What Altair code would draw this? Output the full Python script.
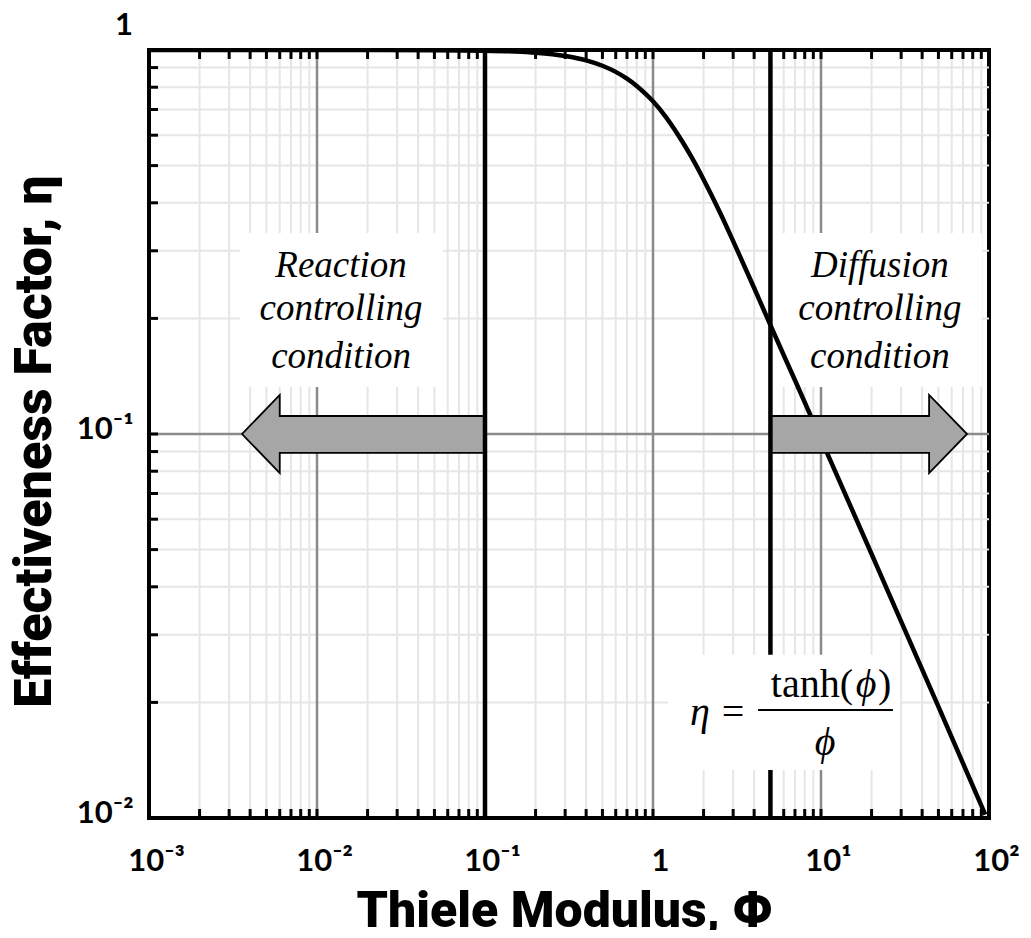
import altair as alt
import pandas as pd

# ---------------- data ----------------
phi = [0.001, 0.01, 0.05, 0.1, 0.15, 0.2, 0.3, 0.4, 0.5, 0.6, 0.7, 0.8, 0.9,
       1.0, 1.2, 1.5, 1.7, 2.0, 2.5, 3.0, 4.0, 5.0, 7.0, 10, 20, 50, 95]
eta = [1.0, 1.0, 0.999, 0.996, 0.991, 0.984, 0.965, 0.940, 0.910, 0.877, 0.842, 0.806, 0.770,
       0.735, 0.667, 0.576, 0.525, 0.460, 0.378, 0.318, 0.240, 0.192, 0.138, 0.097, 0.0487, 0.0195, 0.0102]

x_major = [0.001, 0.01, 0.1, 1, 10, 100]
x_major_labels = ["10⁻³", "10⁻²", "10⁻¹", "1", "10¹", "10²"]
y_axis_major = [0.01, 0.1]
y_axis_labels = ["10⁻²", "10⁻¹"]
y_top_value = [1.0]
y_top_label = ["1"]
y_major = y_axis_major + y_top_value
x_minor = [round(m * 10 ** e, 6) for e in range(-3, 2) for m in range(2, 10)]
y_minor = [round(m * 10 ** e, 6) for e in range(-2, 0) for m in range(2, 10)]
x_grid_major = [0.01, 0.1, 1, 10]
y_grid_major = [0.1]

boundaries = [0.1, 5.0]

left_arrow_x = [0.1, 0.006, 0.006, 0.00358, 0.006, 0.006, 0.1, 0.1]
left_arrow_y = [0.1114, 0.1114, 0.1264, 0.1, 0.0791, 0.0893, 0.0893, 0.1114]
right_arrow_x = [5.0, 44, 44, 74, 44, 44, 5.0, 5.0]
right_arrow_y = [0.1114, 0.1114, 0.1264, 0.1, 0.0791, 0.0893, 0.0893, 0.1114]

box_x = [0.00348, 5.18, 1.23]
box_x2 = [0.0562, 90.8, 29.5]
box_y = [0.3337, 0.3337, 0.0266]
box_y2 = [0.1326, 0.1326, 0.01334]

reaction_lines = ["Reaction", "controlling", "condition"]
diffusion_lines = ["Diffusion", "controlling", "condition"]
region_line_y = [0.2564, 0.198, 0.1486]
reaction_x = 0.0139
diffusion_x = 22.4

eq_lhs_pos = (2.37, 0.01746)
eq_num_pos = (10.57, 0.02066)
eq_den_pos = (10.57, 0.01459)
eq_bar = (4.22, 26.8, 0.0191)

W, H = 840, 768
TICK = 9
TICK_FACTOR = 10 ** (TICK / 384)   # tick length expressed along the log y scale
LABEL_FONT = "Lato"
TITLE_FONT = "Roboto"
SERIF = "Liberation Serif"

xs = alt.Scale(type="log", domain=[0.001, 100], nice=False)
ys = alt.Scale(type="log", domain=[0.01, 1], nice=False)


def label_expr(vals, labels):
    parts = []
    for v, l in zip(vals, labels):
        parts.append(f"abs(log(datum.value) - log({v})) < 0.01 ? '{l}' : ")
    return "".join(parts) + "''"


x_all = sorted(set(x_major + x_minor))
y_all = sorted(set(y_major + y_minor))

minor_x = alt.Chart(pd.DataFrame({"v": x_minor})).mark_rule(
    color="#e6e6e6", strokeWidth=2).encode(
    x=alt.X("v:Q", scale=xs, axis=None))

minor_y = alt.Chart(pd.DataFrame({"v": y_minor})).mark_rule(
    color="#e6e6e6", strokeWidth=2).encode(
    y=alt.Y("v:Q", scale=ys, axis=None))

major_x = alt.Chart(pd.DataFrame({"v": x_grid_major})).mark_rule(
    color="#8a8a8a", strokeWidth=2.5).encode(
    x=alt.X("v:Q", scale=xs, axis=None))

major_y = alt.Chart(pd.DataFrame({"v": y_grid_major})).mark_rule(
    color="#8a8a8a", strokeWidth=2.5).encode(
    y=alt.Y("v:Q", scale=ys, axis=None))

boxes = alt.Chart(pd.DataFrame({"x": box_x[:2], "x2": box_x2[:2], "y": box_y[:2], "y2": box_y2[:2]})).mark_rect(
    fill="white").encode(
    x=alt.X("x:Q", scale=xs, axis=None), x2="x2:Q",
    y=alt.Y("y:Q", scale=ys, axis=None), y2="y2:Q")

curve = alt.Chart(pd.DataFrame({"phi": phi, "eta": eta})).mark_line(
    color="black", strokeWidth=4.5, interpolate="monotone", clip=True).encode(
    x=alt.X("phi:Q", scale=xs,
            axis=alt.Axis(orient="bottom", values=x_major,
                          labelExpr=label_expr(x_major, x_major_labels),
                          ticks=False, domain=False, grid=False,
                          labelFont=LABEL_FONT, labelFontWeight="bold", labelFontSize=31,
                          labelColor="black", labelPadding=52, labelBaseline="alphabetic",
                          labelOffset=7,
                          labelFlush=False, labelOverlap=False,
                          title="Thiele Modulus, Φ", titleFont=TITLE_FONT,
                          titleFontWeight=900, titleFontSize=50, titleColor="black",
                          titleBaseline="alphabetic", titleAlign="center",
                          titleX=415, titleY=108)),
    y=alt.Y("eta:Q", scale=ys,
            axis=alt.Axis(orient="left", values=y_axis_major,
                          labelExpr=label_expr(y_axis_major, y_axis_labels),
                          ticks=False, domain=False, grid=False,
                          labelFont=LABEL_FONT, labelFontWeight="bold", labelFontSize=31,
                          labelColor="black", labelPadding=16, labelOffset=-5,
                          labelFlush=False, labelOverlap=False,
                          title="Effectiveness Factor, η", titleFont=TITLE_FONT,
                          titleFontWeight=900, titleFontSize=52, titleColor="black",
                          titleBaseline="alphabetic", titleAlign="center",
                          titleX=-99, titleY=391)))

top_label = alt.Chart(pd.DataFrame({"y": y_top_value, "t": y_top_label})).mark_text(
    font=LABEL_FONT, fontWeight="bold", fontSize=31, color="black",
    align="right", baseline="middle", dy=-24).encode(
    y=alt.Y("y:Q", scale=ys, axis=None), x=alt.value(-16), text="t:N")

arrows_df = pd.DataFrame({
    "x": left_arrow_x + right_arrow_x,
    "y": left_arrow_y + right_arrow_y,
    "arrow": ["left"] * len(left_arrow_x) + ["right"] * len(right_arrow_x),
    "i": list(range(len(left_arrow_x))) + list(range(len(right_arrow_x))),
})
arrows = alt.Chart(arrows_df).mark_line(
    fill="#a6a6a6", stroke="black", strokeWidth=1.8, strokeJoin="miter").encode(
    x=alt.X("x:Q", scale=xs, axis=None),
    y=alt.Y("y:Q", scale=ys, axis=None),
    detail="arrow:N",
    order="i:Q")

vlines = alt.Chart(pd.DataFrame({"v": boundaries})).mark_rule(
    color="black", strokeWidth=4.5).encode(
    x=alt.X("v:Q", scale=xs, axis=None))

eq_box = alt.Chart(pd.DataFrame({"x": box_x[2:], "x2": box_x2[2:], "y": box_y[2:], "y2": box_y2[2:]})).mark_rect(
    fill="white").encode(
    x=alt.X("x:Q", scale=xs, axis=None), x2="x2:Q",
    y=alt.Y("y:Q", scale=ys, axis=None), y2="y2:Q")

region_df = pd.DataFrame({
    "x": [reaction_x] * 3 + [diffusion_x] * 3,
    "y": region_line_y * 2,
    "t": reaction_lines + diffusion_lines,
})
region_text = alt.Chart(region_df).mark_text(
    font=SERIF, fontStyle="italic", fontSize=37, color="black",
    align="center", baseline="alphabetic").encode(
    x=alt.X("x:Q", scale=xs, axis=None),
    y=alt.Y("y:Q", scale=ys, axis=None),
    text="t:N")


def eq_piece(txt, pos, style, align, dx):
    df = pd.DataFrame({"x": [pos[0]], "y": [pos[1]], "t": [txt]})
    return alt.Chart(df).mark_text(
        font=SERIF, fontSize=40, fontStyle=style, color="black",
        align=align, baseline="alphabetic", dx=dx).encode(
        x=alt.X("x:Q", scale=xs, axis=None),
        y=alt.Y("y:Q", scale=ys, axis=None),
        text="t:N")


eq_parts = [
    eq_piece("η", eq_lhs_pos, "italic", "center", -16),
    eq_piece("=", eq_lhs_pos, "normal", "center", 17),
    eq_piece("tanh(", eq_num_pos, "normal", "right", 28),
    eq_piece("ϕ", eq_num_pos, "italic", "center", 41),
    eq_piece(")", eq_num_pos, "normal", "left", 53),
    eq_piece("ϕ", eq_den_pos, "italic", "center", 0),
]

eq_rule = alt.Chart(pd.DataFrame({"x": [eq_bar[0]], "x2": [eq_bar[1]], "y": [eq_bar[2]]})).mark_rule(
    color="black", strokeWidth=2).encode(
    x=alt.X("x:Q", scale=xs, axis=None), x2="x2:Q",
    y=alt.Y("y:Q", scale=ys, axis=None))

y_lo, y_hi = 0.01, 1.0
xt_df = pd.DataFrame({
    "v": x_all * 2,
    "a": [y_lo] * len(x_all) + [y_hi] * len(x_all),
    "b": [y_lo * TICK_FACTOR] * len(x_all) + [y_hi / TICK_FACTOR] * len(x_all),
})
yt_df = pd.DataFrame({"w": y_all})
xticks = alt.Chart(xt_df).mark_rule(color="black", strokeWidth=3).encode(
    x=alt.X("v:Q", scale=xs, axis=None),
    y=alt.Y("a:Q", scale=ys, axis=None), y2="b:Q")
left_ticks = alt.Chart(yt_df).mark_rule(color="black", strokeWidth=3).encode(
    y=alt.Y("w:Q", scale=ys, axis=None), x=alt.value(0), x2=alt.value(TICK))

PAD_L, PAD_T = 141, 42
chart = alt.layer(
    minor_x, minor_y, major_x, major_y, boxes, curve, arrows, vlines,
    eq_box, region_text, *eq_parts, eq_rule,
    xticks, left_ticks, top_label
).resolve_axis(x="independent", y="independent").properties(
    width=W, height=H,
    autosize=alt.AutoSizeParams(type="none"),
    padding={"left": PAD_L, "top": PAD_T, "right": 1015 - PAD_L - W, "bottom": 922 - PAD_T - H}
).configure_view(stroke="black", strokeWidth=4)

chart.save("out.html", embed_options={"renderer": "svg", "actions": False})
